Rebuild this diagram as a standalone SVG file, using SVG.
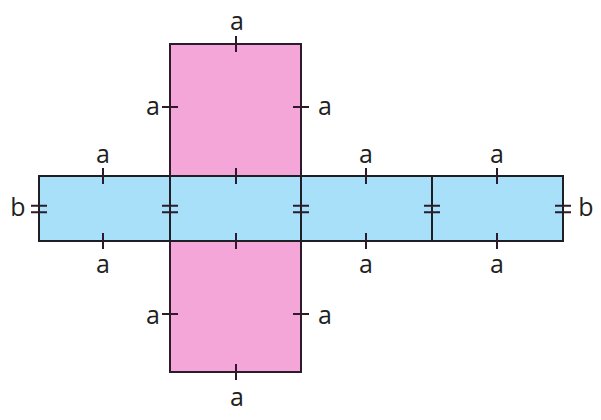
<svg xmlns="http://www.w3.org/2000/svg" width="601" height="420" viewBox="0 0 601 420">
<style>
.pink{fill:#f5a6d8;stroke:#2d1a2b;stroke-width:2}
.blue{fill:#a7e0f8;stroke:#1e1e24;stroke-width:2}
.tick{stroke:#2d1a2b;stroke-width:2;fill:none}
text{font-family:"Open Sans","Liberation Sans",sans-serif;font-size:25px;fill:#231f20;text-anchor:middle}
</style>
<rect width="601" height="420" fill="#ffffff"/>
<g id="pink-top"><rect class="pink" x="170" y="44" width="131" height="132"/></g>
<g id="pink-bottom"><rect class="pink" x="170" y="241" width="131" height="131"/></g>
<g id="blue-1"><rect class="blue" x="39" y="176" width="131" height="65"/></g>
<g id="blue-2"><rect class="blue" x="170" y="176" width="131" height="65"/></g>
<g id="blue-3"><rect class="blue" x="301" y="176" width="131" height="65"/></g>
<g id="blue-4"><rect class="blue" x="432" y="176" width="131" height="65"/></g>
<g id="connectors">
<g class="tick">
<path d="M236 36V52"/>
<path d="M162 107H178M293 107H309"/>
<path d="M162 314H178M293 314H309"/>
<path d="M236 364V380"/>
<path d="M103 168V184M236 168V184M366 168V184M497 168V184"/>
<path d="M103 233V249M236 233V249M366 233V249M497 233V249"/>
<path d="M31 205.7H47M31 212.3H47"/>
<path d="M162 205.7H178M162 212.3H178"/>
<path d="M293 205.7H309M293 212.3H309"/>
<path d="M424 205.7H440M424 212.3H440"/>
<path d="M555 205.7H571M555 212.3H571"/>
</g>
</g>
<g id="labels">
<text x="237" y="30">a</text>
<text x="153" y="115">a</text>
<text x="325" y="115">a</text>
<text x="103" y="163">a</text>
<text x="366" y="163">a</text>
<text x="497" y="163">a</text>
<text x="18" y="216">b</text>
<text x="586" y="216">b</text>
<text x="103" y="273">a</text>
<text x="366" y="273">a</text>
<text x="497" y="273">a</text>
<text x="153" y="324">a</text>
<text x="325" y="324">a</text>
<text x="237" y="406">a</text>
</g>
</svg>
